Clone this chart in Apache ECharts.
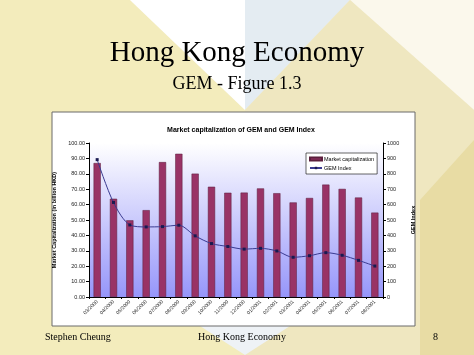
<!DOCTYPE html>
<html><head><meta charset="utf-8">
<script src="https://cdn.jsdelivr.net/npm/echarts@6/dist/echarts.min.js"></script>
<style>html,body{margin:0;padding:0;}#c{width:474px;height:355px;}</style>
</head><body><div id="c"></div>
<script>
var categories = ['03/2000','04/2000','05/2000','06/2000','07/2000','08/2000','09/2000','10/2000','11/2000','12/2000','01/2001','02/2001','03/2001','04/2001','05/2001','06/2001','07/2001','08/2001'];
var marketCap = [87.0, 63.8, 49.8, 56.4, 87.6, 93.0, 80.1, 71.6, 67.7, 67.8, 70.5, 67.4, 61.4, 64.3, 73.0, 70.2, 64.6, 54.8];
var gemIndex = [892, 614, 468, 455, 457, 466, 397, 347, 328, 311, 316, 299, 258, 268, 288, 271, 238, 201];
var leftTicks = [0,10,20,30,40,50,60,70,80,90,100];
var rightTicks = [0,100,200,300,400,500,600,700,800,900,1000];

var chart = echarts.init(document.getElementById('c'), null, {renderer:'canvas'});
var ff = 'Liberation Sans, Arial, sans-serif';
chart.setOption({
  animation:false,
  backgroundColor:'#f6f1d6',
  graphic:[
    {type:'polygon', z:-10, shape:{points:[[0,0],[130,0],[245,110],[245,355],[0,355]]}, style:{fill:'#f3ecbc'}},
    {type:'polygon', z:-10, shape:{points:[[130,0],[245,0],[245,110]]}, style:{fill:'#ffffff'}},
    {type:'polygon', z:-10, shape:{points:[[245,0],[350,0],[245,110]]}, style:{fill:'#e4ecf2'}},
    {type:'polygon', z:-10, shape:{points:[[350,0],[474,0],[474,110]]}, style:{fill:'#fbf8ec'}},
    {type:'polygon', z:-10, shape:{points:[[245,110],[350,0],[474,110],[474,355],[245,355]]}, style:{fill:'#efe7c0'}},
    {type:'polygon', z:-10, shape:{points:[[200,326],[290,326],[245,355]]}, style:{fill:'#eef2f6'}},
    {type:'polygon', z:-10, shape:{points:[[420,200],[474,140],[474,355],[420,355]]}, style:{fill:'#e8dca4'}},
    {type:'rect', z:-5, shape:{x:52,y:112,width:363,height:214}, style:{fill:'#ffffff', stroke:'#6a6a6a', lineWidth:1}}
  ],
  title:[
    {text:'Hong Kong Economy', left:'center', top:34, textStyle:{fontFamily:'Liberation Serif, Times New Roman, serif', fontSize:29, fontWeight:'normal', color:'#000'}},
    {text:'GEM - Figure 1.3', left:'center', top:70, textStyle:{fontFamily:'Liberation Serif, Times New Roman, serif', fontSize:18, fontWeight:'normal', color:'#000'}},
    {text:'Market capitalization of GEM and GEM Index', left:236, textAlign:'center', top:122, textStyle:{fontFamily:ff, fontSize:7, fontWeight:'bold', color:'#000'}},
    {text:'Stephen Cheung', left:40, top:327, textStyle:{fontFamily:'Liberation Serif, serif', fontSize:10, fontWeight:'normal', color:'#000'}},
    {text:'Hong Kong Economy', left:237, textAlign:'center', top:327, textStyle:{fontFamily:'Liberation Serif, serif', fontSize:10, fontWeight:'normal', color:'#000'}},
    {text:'8', left:428, top:327, textStyle:{fontFamily:'Liberation Serif, serif', fontSize:10, fontWeight:'normal', color:'#000'}}
  ],
  legend:{
    orient:'vertical', left:306, top:153, itemWidth:12, itemHeight:3, itemGap:3,
    padding:[3,3,3,3], borderColor:'#000', borderWidth:0.6, backgroundColor:'#fff',
    textStyle:{fontFamily:ff, fontSize:5.5, color:'#000', padding:[0,0,0,-3]},
    data:[{name:'Market capitalization', icon:'rect'},{name:'GEM Index'}]
  },
  grid:{left:89, right:91, top:143, bottom:58, show:true, borderWidth:0,
    backgroundColor:{type:'linear', x:0,y:0,x2:0,y2:1, colorStops:[{offset:0,color:'#ffffff'},{offset:1,color:'#9696fa'}]}},
  xAxis:{type:'category', data:categories, boundaryGap:true,
    axisLine:{lineStyle:{color:'#000', width:1}}, axisTick:{show:true, alignWithLabel:false, length:2, lineStyle:{color:'#000'}},
    axisLabel:{rotate:45, fontFamily:ff, fontSize:5, color:'#222', margin:4, interval:0}},
  yAxis:[
    {type:'value', min:0, max:100, interval:10, position:'left',
     name:'Market Capitalization (in billion HKD)', nameLocation:'middle', nameGap:25,
     nameTextStyle:{fontFamily:ff, fontSize:5.5, fontWeight:'bold', color:'#000'},
     axisLine:{show:true, lineStyle:{color:'#000'}}, axisTick:{show:true, length:3, lineStyle:{color:'#000'}},
     splitLine:{show:false},
     axisLabel:{fontFamily:ff, fontSize:5.5, color:'#222', margin:4, formatter:function(v){return v.toFixed(2);}}},
    {type:'value', min:0, max:1000, interval:100, position:'right',
     name:'GEM Index', nameLocation:'middle', nameGap:21,
     nameTextStyle:{fontFamily:ff, fontSize:5.5, fontWeight:'bold', color:'#000'},
     axisLine:{show:true, lineStyle:{color:'#000'}}, axisTick:{show:true, length:3, lineStyle:{color:'#000'}},
     splitLine:{show:false},
     axisLabel:{fontFamily:ff, fontSize:5.5, color:'#222', margin:4, formatter:function(v){return String(v);}}}
  ],
  series:[
    {name:'Market capitalization', type:'bar', data:marketCap, yAxisIndex:0, barWidth:'44%',
     itemStyle:{color:'#993366', borderColor:'#5a1e3c', borderWidth:0.5}},
    {name:'GEM Index', type:'line', data:gemIndex, yAxisIndex:1, smooth:0.3,
     symbol:'rect', symbolSize:3, showAllSymbol:true,
     lineStyle:{color:'#3a3a90', width:1}, itemStyle:{color:'#1a1a50'}}
  ]
});
</script></body></html>
